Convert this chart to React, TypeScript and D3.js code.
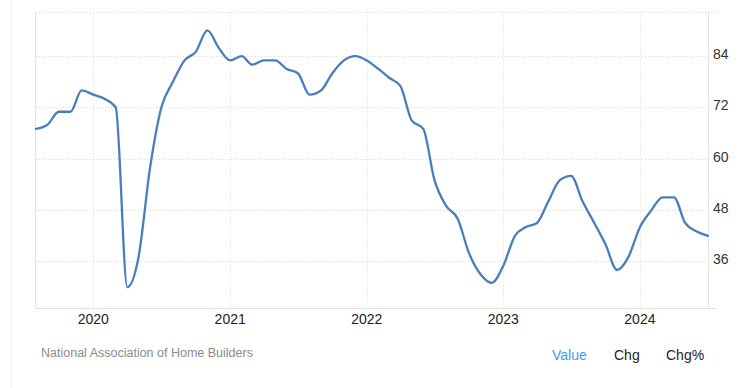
import React from "react";
import * as d3 from "d3";

const months: string[] = [
  "2019-08","2019-09","2019-10","2019-11","2019-12",
  "2020-01","2020-02","2020-03","2020-04","2020-05","2020-06","2020-07","2020-08","2020-09","2020-10","2020-11","2020-12",
  "2021-01","2021-02","2021-03","2021-04","2021-05","2021-06","2021-07","2021-08","2021-09","2021-10","2021-11","2021-12",
  "2022-01","2022-02","2022-03","2022-04","2022-05","2022-06","2022-07","2022-08","2022-09","2022-10","2022-11","2022-12",
  "2023-01","2023-02","2023-03","2023-04","2023-05","2023-06","2023-07","2023-08","2023-09","2023-10","2023-11","2023-12",
  "2024-01","2024-02","2024-03","2024-04","2024-05","2024-06","2024-07",
];
const values: number[] = [
  67, 68, 71, 71, 76,
  75, 74, 72, 30, 37, 58, 72, 78, 83, 85, 90, 86,
  83, 84, 82, 83, 83, 81, 80, 75, 76, 80, 83, 84,
  83, 81, 79, 77, 69, 67, 55, 49, 46, 38, 33, 31,
  35, 42, 44, 45, 50, 55, 56, 50, 45, 40, 34, 37,
  44, 48, 51, 51, 45, 43, 42,
];
const yTicks: number[] = [36, 48, 60, 72, 84];
const xTickYears: number[] = [2020, 2021, 2022, 2023, 2024];
const sourceLabel = "National Association of Home Builders";
const tabLabels: string[] = ["Value", "Chg", "Chg%"];

const W = 740;
const H = 388;
const left = 36;
const right = 708;
const top = 12.5;
const bottom = 308.5;
const FONT = "Arial, 'Liberation Sans', sans-serif";

export default function App() {
  const parse = d3.timeParse("%Y-%m");
  const data = months.map((m, i) => ({ date: parse(m) as Date, value: values[i] }));
  const x = d3
    .scaleTime()
    .domain([data[0].date, data[data.length - 1].date])
    .range([left, right]);
  const y = d3.scaleLinear().domain([25, 94.2]).range([bottom, top]);
  const line = d3
    .line<{ date: Date; value: number }>()
    .x((d) => x(d.date))
    .y((d) => y(d.value))
    .curve(d3.curveMonotoneX);

  const tabX = [552, 614, 666];
  return (
    <svg
      width={W}
      height={H}
      style={{ position: "absolute", left: 0, top: 0, background: "#fff" }}
      fontFamily={FONT}
    >
      <line x1={11.5} x2={11.5} y1={0} y2={H} stroke="#f0f0f0" strokeWidth={1} />
      {/* horizontal grid */}
      <line x1={left} x2={718} y1={top} y2={top} stroke="#d9d9d9" strokeDasharray="1,2" />
      {yTicks.map((t) => (
        <line
          key={"h" + t}
          x1={left}
          x2={right}
          y1={Math.round(y(t)) + 0.5}
          y2={Math.round(y(t)) + 0.5}
          stroke="#d9d9d9"
          strokeDasharray="1,2"
        />
      ))}
      {xTickYears.map((yr) => {
        const xx = Math.round(x(new Date(yr, 0, 1))) + 0.5;
        return (
          <line
            key={"v" + yr}
            x1={xx}
            x2={xx}
            y1={top}
            y2={bottom}
            stroke="#d9d9d9"
            strokeDasharray="1,2"
          />
        );
      })}
      {/* borders */}
      <line x1={left - 0.5} x2={left - 0.5} y1={top} y2={bottom} stroke="#e3e3e3" />
      <line x1={right + 0.5} x2={right + 0.5} y1={top} y2={bottom} stroke="#e3e3e3" />
      <line x1={left} x2={717} y1={bottom} y2={bottom} stroke="#e0e0e0" />
      {/* line */}
      <path
        d={line(data) ?? ""}
        fill="none"
        stroke="#4a7dbd"
        strokeWidth={2.3}
        strokeLinejoin="round"
        strokeLinecap="round"
      />
      {/* y labels */}
      {yTicks.map((t) => (
        <text key={"yl" + t} x={713} y={y(t) + 3} fontSize={14} fill="#333">
          {t}
        </text>
      ))}
      {/* x labels */}
      {xTickYears.map((yr) => (
        <text
          key={"xl" + yr}
          x={x(new Date(yr, 0, 1))}
          y={324}
          fontSize={14}
          fill="#222"
          textAnchor="middle"
        >
          {yr}
        </text>
      ))}
      <text x={41} y={357} fontSize={12.5} fill="#8a8a8a">
        {sourceLabel}
      </text>
      {tabLabels.map((t, i) => (
        <text
          key={t}
          x={tabX[i]}
          y={360}
          fontSize={14}
          fill={i === 0 ? "#3d9cf0" : "#222"}
        >
          {t}
        </text>
      ))}
    </svg>
  );
}
